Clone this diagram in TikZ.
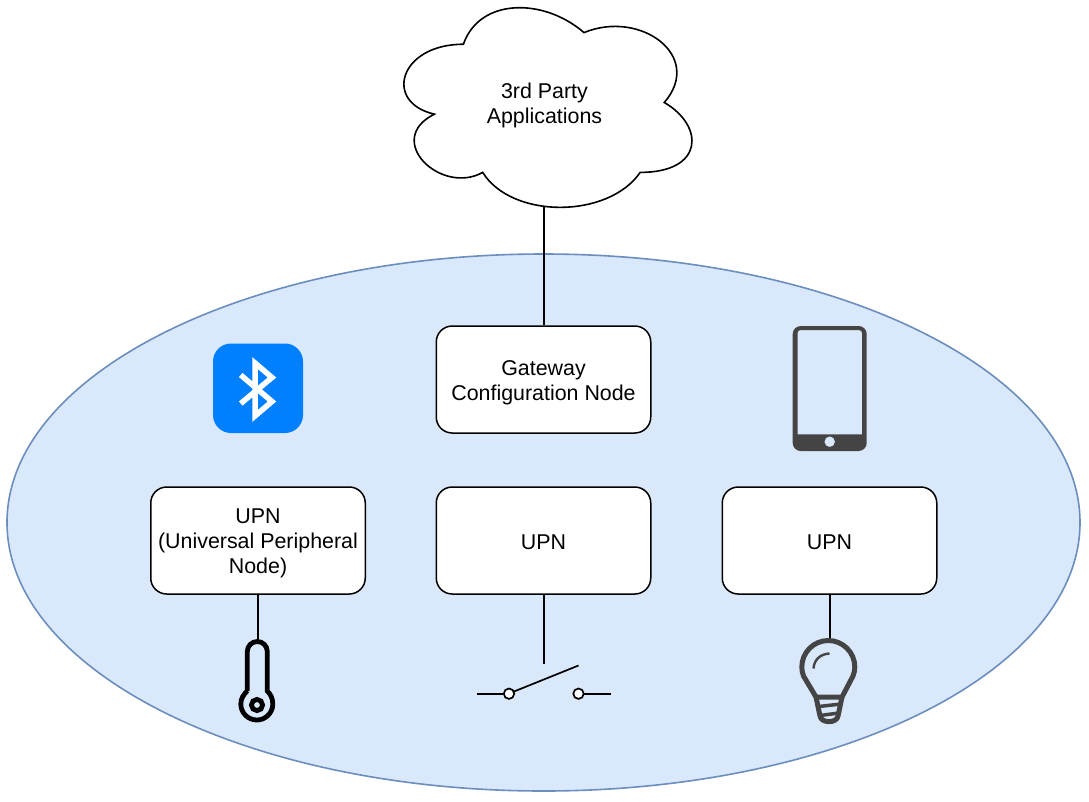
\documentclass[tikz,border=0pt]{standalone}
\usepackage{fontspec}
\setmainfont{Liberation Sans}
\newcommand{\lowertext}[2]{\raisebox{-#1}[\height][\depth]{#2}}
\tikzset{
  box/.style={draw=black,fill=white,line width=1.5pt,rounded corners=16pt,minimum width=214.5pt,minimum height=107pt,inner sep=0pt,align=center,font=\fontsize{21.4}{25}\selectfont},
  wire/.style={draw=black,line width=1.7pt},
  label/.style={inner sep=0pt,align=center,font=\fontsize{21.4}{25}\selectfont},
  darkicon/.style={draw=iconDark,line width=5pt},
}
\definecolor{areaFill}{HTML}{DAE8FC}
\definecolor{areaLine}{HTML}{6C8EBF}
\definecolor{btBlue}{HTML}{007FFF}
\definecolor{iconDark}{HTML}{444444}
\begin{document}
\begin{tikzpicture}[x=1pt,y=-1pt]
\useasboundingbox (0,0) rectangle (1089,801);
\fill[white] (0,0) rectangle (1089,801);
% area
\draw[fill=areaFill,draw=areaLine,line width=1.6pt] (543.5,522.5) ellipse [x radius=536.5,y radius=268.5];
% cloud
\draw[fill=white,draw=black,line width=1.6pt]
 (463.4,44.25) .. controls (399.1,44.25) and (383,102.5) .. (434.4,114.15)
 .. controls (383,139.8) and (440.9,195.7) .. (482.7,172.4)
 .. controls (511.6,219) and (608,219) .. (640.2,172.4)
 .. controls (704.5,172.4) and (704.5,125.8) .. (664.3,102.5)
 .. controls (704.5,55.9) and (640.2,9.3) .. (584,32.6)
 .. controls (543.8,-2.35) and (479.5,-2.35) .. (463.4,44.25) -- cycle;
\node[label,yshift=-1.5pt] (cloud) at (544.5,103.5) {3rd Party\\Applications};
\coordinate (cloudb) at (544,207);
% boxes
\node[box] (gw) at (543.5,379.5) {\lowertext{3pt}{\parbox{200pt}{\centering Gateway\\Configuration Node}}};
\node[box] (upnA) at (258,540.5) {\lowertext{3.2pt}{\parbox{210pt}{\centering UPN\\(Universal Peripheral\\Node)}}};
\node[box] (upnB) at (543.5,540.5) {\lowertext{2pt}{UPN}};
\node[box] (upnC) at (829.5,540.5) {\lowertext{2pt}{UPN}};
% connectors
\coordinate (thermoTop) at (258,640);
\coordinate (switchTop) at (544,664);
\coordinate (bulbTop) at (830,640);
\draw[wire] (cloudb) -- (cloudb |- gw.north);
\draw[wire] (upnA.south -| thermoTop) -- (thermoTop);
\draw[wire] (upnB.south -| switchTop) -- (switchTop);
\draw[wire] (upnC.south -| bulbTop) -- (bulbTop);
% bluetooth icon
\fill[btBlue] (213,343.5) [rounded corners=18pt] rectangle (303,433);
\draw[white,line width=5.5pt,miter limit=10]
 (240.7,375) -- (272,401.5) -- (255,416) -- (255,363) -- (272,377.5) -- (240.7,403.5);
% phone icon
\fill[iconDark,even odd rule]
 (800.7,326) -- (858.7,326) .. controls (863.1,326) and (866.7,329.6) .. (866.7,334)
 -- (866.7,443) .. controls (866.7,447.4) and (863.1,451) .. (858.7,451)
 -- (800.7,451) .. controls (796.3,451) and (792.7,447.4) .. (792.7,443)
 -- (792.7,334) .. controls (792.7,329.6) and (796.3,326) .. (800.7,326) -- cycle
 (797.5,434.3) -- (862,434.3) -- (862,333) .. controls (862,331.3) and (860.7,330) .. (859,330)
 -- (800.5,330) .. controls (798.8,330) and (797.5,331.3) .. (797.5,333) -- cycle;
\fill[areaFill] (829.7,441.7) circle (5.2);
% thermometer
\draw[black,line width=4.8pt]
 (247.3,691) -- (247.3,651.5) .. controls (247.3,646) and (251.8,641.5) .. (257.3,641.5)
 .. controls (262.8,641.5) and (267.3,646) .. (267.3,651.5) -- (267.3,691)
 .. controls (270.5,694) and (272.8,698.5) .. (272.8,704)
 .. controls (272.8,712.8) and (265.6,720) .. (256.8,720)
 .. controls (248,720) and (240.8,712.8) .. (240.8,704)
 .. controls (240.8,698.5) and (243.8,694) .. (247.3,691);
\draw[black,line width=4.8pt] (257,705) circle (5.6);
% switch
\draw[wire] (477,693.7) -- (503.5,693.7);
\draw[wire] (584,693.7) -- (610.7,693.7);
\draw[wire] (514,691.5) -- (578.5,665.5);
\draw[wire,fill=white] (509,693.7) circle (5.2);
\draw[wire,fill=white] (578.5,693.7) circle (5.2);
% bulb
\draw[darkicon,line join=round]
 (816,697) -- (803.5,676) .. controls (802.4,673) and (801.8,670) .. (801.8,667)
 .. controls (801.8,652.4) and (813.7,640.5) .. (828.3,640.5)
 .. controls (842.9,640.5) and (854.8,652.4) .. (854.8,667)
 .. controls (854.8,670) and (854.2,673) .. (853,676) -- (842,697) -- cycle;
\draw[darkicon,line join=round]
 (816,697) -- (820,716) .. controls (821,723.5) and (837,723.5) .. (838,716) -- (842,697);
\draw[iconDark,line width=3.5pt] (817,706.7) -- (841,704);
\draw[iconDark,line width=3.5pt] (820,715.5) -- (839,713);
\draw[iconDark,line width=2.4pt] (813.5,668.5) .. controls (814,660) and (820,654) .. (829.5,653.5);
\end{tikzpicture}
\end{document}
